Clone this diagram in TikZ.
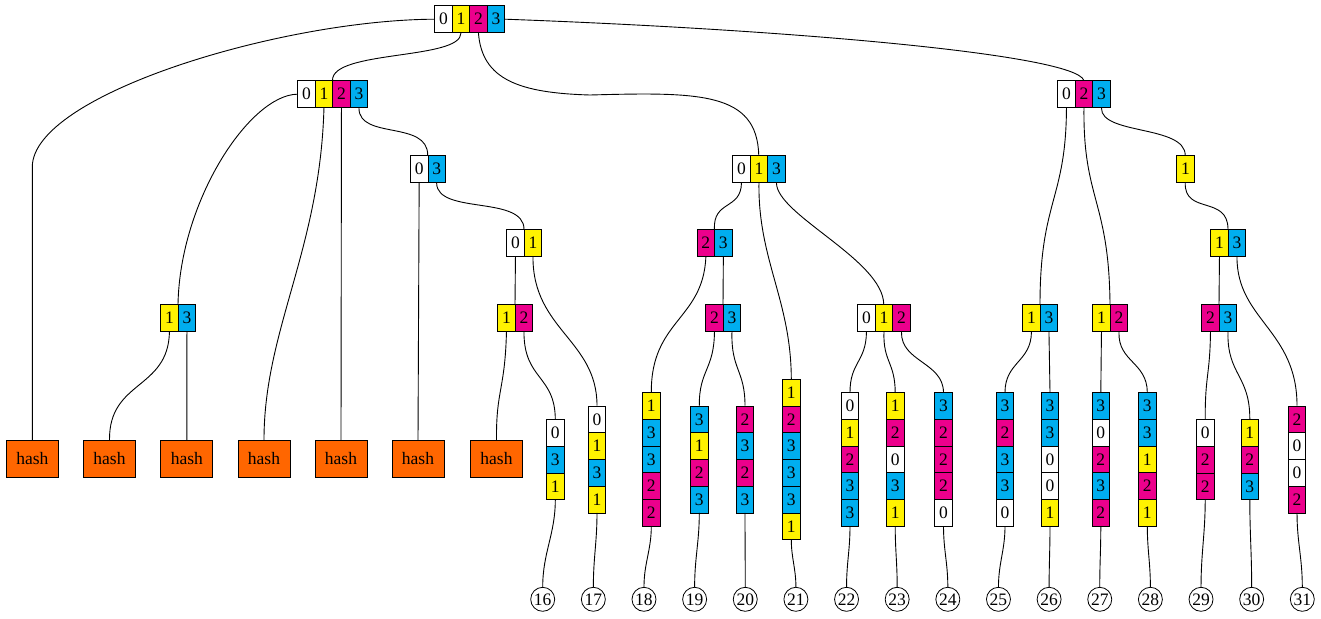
\documentclass[tikz,border=0pt]{standalone}
\usepackage{fontspec}
\setmainfont{Liberation Serif}
\definecolor{cw}{HTML}{FFFFFF}
\definecolor{cy}{HTML}{FFF200}
\definecolor{cm}{HTML}{EC008C}
\definecolor{cc}{HTML}{00AEEF}
\definecolor{horange}{HTML}{FF6600}
\tikzset{
  cell/.style={draw, line width=0.8pt, minimum width=17.5pt, minimum height=27pt, inner sep=0pt, font=\fontsize{17.5}{20}\selectfont},
  vcell/.style={cell, minimum height=26.7pt},
  recbox/.style={inner sep=0pt, minimum height=27pt},
  hashbox/.style={draw, line width=0.8pt, fill=horange, minimum width=52pt, minimum height=37pt, inner sep=0pt, font=\fontsize{17.5}{20}\selectfont},
  leafnum/.style={draw, line width=0.8pt, circle, minimum size=24pt, inner sep=0pt, font=\fontsize{17.5}{20}\selectfont},
  link/.style={line width=0.9pt}
}
% horizontal record: name, n, left, top, list of colour/digit
\newcommand\hrec[5]{%
  \node[recbox, minimum width=#2*17.5pt, anchor=north west] (#1) at (#3,#4) {};
  \foreach \col/\dig [count=\i from 0] in {#5} {
    \node[cell, fill=\col, anchor=north west] (#1-\dig) at (#3+\i*17.5, #4) {\dig};
  }%
}
% vertical record: name, n, centre x, top, list of colour/digit
\newcommand\vrec[5]{%
  \node[inner sep=0pt, minimum width=17.5pt, minimum height=#2*26.7pt, anchor=north] (#1) at (#3,#4) {};
  \foreach \col/\dig [count=\i from 0] in {#5} {
    \node[vcell, fill=\col, anchor=north] (#1-\i) at (#3, #4+\i*26.7) {\dig};
  }%
}
\begin{document}
\begin{tikzpicture}[x=1pt,y=-1pt]
\useasboundingbox (0,0) rectangle (1321,618);
% internal records
\hrec{R}{4}{434.3}{5.3}{cw/0,cy/1,cm/2,cc/3}
\hrec{A}{4}{297.3}{80.3}{cw/0,cy/1,cm/2,cc/3}
\hrec{J}{3}{1057.3}{80.3}{cw/0,cm/2,cc/3}
\hrec{C}{2}{410}{155.3}{cw/0,cc/3}
\hrec{F}{3}{732.3}{155.3}{cw/0,cy/1,cc/3}
\hrec{K}{1}{1176.3}{155.3}{cy/1}
\hrec{D}{2}{506.3}{229.3}{cw/0,cy/1}
\hrec{G}{2}{696.7}{229.3}{cm/2,cc/3}
\hrec{L}{2}{1210.3}{229.3}{cy/1,cc/3}
\hrec{B}{2}{160.3}{304.3}{cy/1,cc/3}
\hrec{E}{2}{497.3}{304.3}{cy/1,cm/2}
\hrec{H}{2}{705.3}{304.3}{cm/2,cc/3}
\hrec{I}{3}{857.3}{304.3}{cw/0,cy/1,cm/2}
\hrec{M}{2}{1022.3}{304.3}{cy/1,cc/3}
\hrec{N}{2}{1092.3}{304.3}{cy/1,cm/2}
\hrec{O}{2}{1201.3}{304.3}{cm/2,cc/3}
% hash nodes
\node[hashbox] (h1) at (32.3,458.7) {hash};
\node[hashbox] (h2) at (109.5,458.7) {hash};
\node[hashbox] (h3) at (186.8,458.7) {hash};
\node[hashbox] (h4) at (264,458.7) {hash};
\node[hashbox] (h5) at (341,458.7) {hash};
\node[hashbox] (h6) at (418,458.7) {hash};
\node[hashbox] (h7) at (496.5,458.7) {hash};
% leaf records
\vrec{v16}{3}{555.3}{419.3}{cw/0,cc/3,cy/1}
\vrec{v17}{4}{597}{405.7}{cw/0,cy/1,cc/3,cy/1}
\vrec{v18}{5}{651.3}{392.3}{cy/1,cc/3,cc/3,cm/2,cm/2}
\vrec{v19}{4}{699.3}{405.7}{cc/3,cy/1,cm/2,cc/3}
\vrec{v20}{4}{745}{405.7}{cm/2,cc/3,cm/2,cc/3}
\vrec{v21}{6}{791.3}{379}{cy/1,cm/2,cc/3,cc/3,cc/3,cy/1}
\vrec{v22}{5}{850}{392.3}{cw/0,cy/1,cm/2,cc/3,cc/3}
\vrec{v23}{5}{895.2}{392.3}{cy/1,cm/2,cw/0,cc/3,cy/1}
\vrec{v24}{5}{943.5}{392.3}{cc/3,cm/2,cm/2,cm/2,cw/0}
\vrec{v25}{5}{1005}{392.3}{cc/3,cm/2,cc/3,cc/3,cw/0}
\vrec{v26}{5}{1050}{392.3}{cc/3,cc/3,cw/0,cw/0,cy/1}
\vrec{v27}{5}{1100.8}{392.3}{cc/3,cw/0,cm/2,cc/3,cm/2}
\vrec{v28}{5}{1147.3}{392.3}{cc/3,cc/3,cy/1,cm/2,cy/1}
\vrec{v29}{3}{1205.2}{419.3}{cw/0,cm/2,cm/2}
\vrec{v30}{3}{1249.8}{419.3}{cy/1,cm/2,cc/3}
\vrec{v31}{4}{1297}{405.7}{cm/2,cw/0,cw/0,cm/2}
% numbered circles
\foreach \k in {16,...,31} {
  \node[leafnum] (n\k) at ({542.7+50.64*(\k-16)},599.3) {\k};
}
% connectors
\draw[link] (R-0.west) .. controls (280,20) and (32.3,95) .. (32.3,167) -- (h1.north);
\draw[link] (R-1.south) .. controls (461,60) and (332,50) .. (A.north);
\draw[link] (R-2.south) .. controls (482,80) and (520,93) .. (590,95) .. controls (700,92) and (757,92) .. (F.north);
\draw[link] (R-3.east) .. controls (800,30) and (1075,55) .. (J.north);
\draw[link] (A-0.west) .. controls (250,95) and (180,200) .. (B.north);
\draw[link] (A-1.south) .. controls (320,250) and (264,330) .. (h4.north);
\draw[link] (A-2.south) -- (h5.north);
\draw[link] (A-3.south) .. controls (359,140) and (428,120) .. (C.north);
\draw[link] (C-0.south) -- (h6.north);
\draw[link] (C-3.south) .. controls (437,215) and (524,195) .. (D.north);
\draw[link] (D-0.south) -- (E.north);
\draw[link] (D-1.south) .. controls (533,330) and (597,340) .. (v17.north);
\draw[link] (E-1.south) .. controls (505,390) and (496,390) .. (h7.north);
\draw[link] (E-2.south) .. controls (524,380) and (555,375) .. (v16.north);
\draw[link] (B-1.south) .. controls (168,390) and (109,380) .. (h2.north);
\draw[link] (B-3.south) -- (h3.north);
\draw[link] (F-0.south) .. controls (741,210) and (713,200) .. (G.north);
\draw[link] (F-1.south) .. controls (758,260) and (791,300) .. (v21.north);
\draw[link] (F-3.south) .. controls (777,215) and (883,260) .. (I.north);
\draw[link] (G-2.south) .. controls (703,320) and (651,320) .. (v18.north);
\draw[link] (G-3.south) -- (H.north);
\draw[link] (H-2.south) .. controls (714,370) and (699,370) .. (v19.north);
\draw[link] (H-3.south) .. controls (731,370) and (745,370) .. (v20.north);
\draw[link] (I-0.south) .. controls (866,362) and (850,362) .. (v22.north);
\draw[link] (I-1.south) .. controls (883,362) and (895,362) .. (v23.north);
\draw[link] (I-2.south) .. controls (901,362) and (943,362) .. (v24.north);
\draw[link] (J-0.south) .. controls (1066,200) and (1040,200) .. (M.north);
\draw[link] (J-2.south) .. controls (1083,200) and (1109,200) .. (N.north);
\draw[link] (J-3.south) .. controls (1101,135) and (1185,125) .. (K.north);
\draw[link] (K.south) .. controls (1184,215) and (1228,195) .. (L.north);
\draw[link] (L-1.south) -- (O.north);
\draw[link] (L-3.south) .. controls (1237,320) and (1297,330) .. (v31.north);
\draw[link] (M-1.south) .. controls (1031,362) and (1005,362) .. (v25.north);
\draw[link] (M-3.south) -- (v26.north);
\draw[link] (N-1.south) -- (v27.north);
\draw[link] (N-2.south) .. controls (1118,362) and (1147,362) .. (v28.north);
\draw[link] (O-2.south) .. controls (1210,375) and (1205,375) .. (v29.north);
\draw[link] (O-3.south) .. controls (1227,375) and (1250,375) .. (v30.north);
\foreach \k in {16,...,31} {
  \draw[link] (v\k.south) to[out=-90,in=90] (n\k.north);
}
\end{tikzpicture}
\end{document}
